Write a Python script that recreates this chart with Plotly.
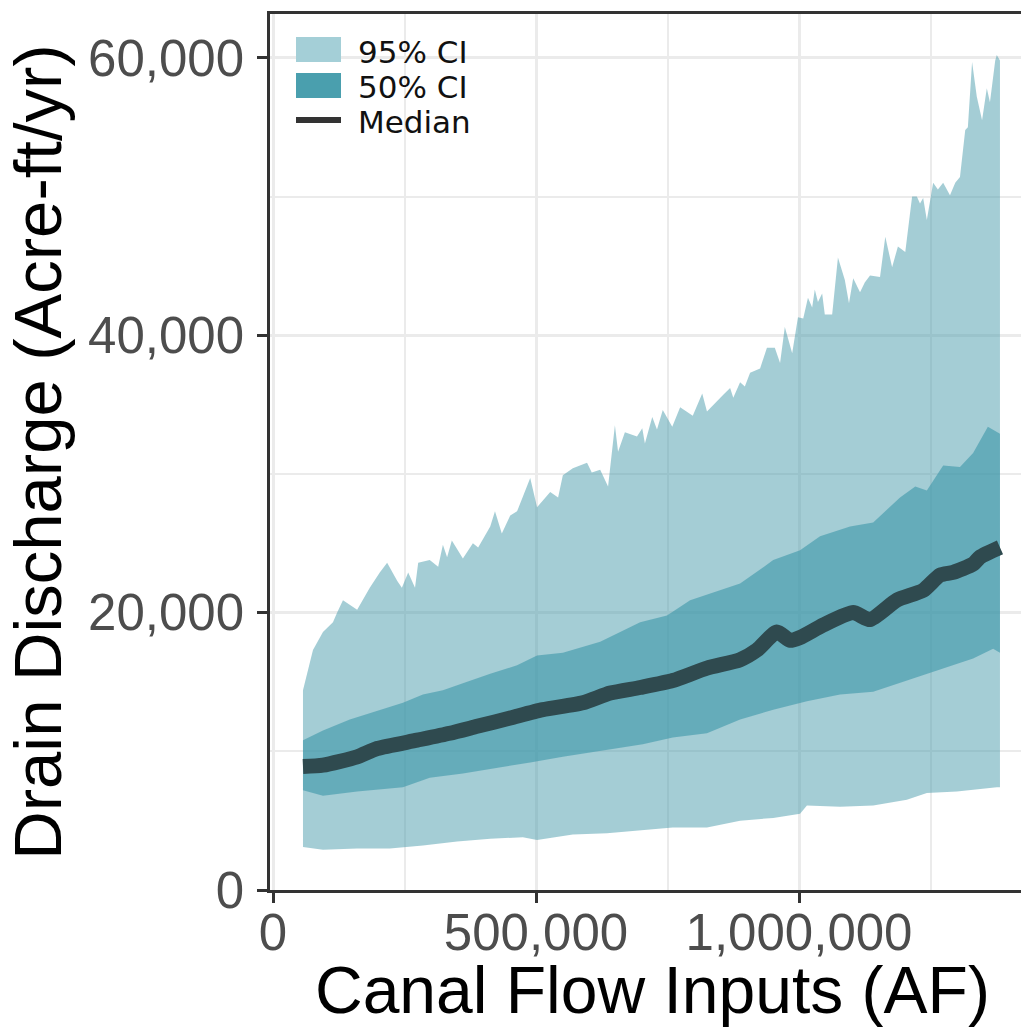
import plotly.graph_objects as go

# ---------------- data ----------------
upper95_x = [57000, 76000, 95000, 114000, 122000, 133000, 160000, 184000, 203000, 217000,
             236000, 245000, 257000, 270000, 276000, 298000, 314000, 323000, 331000, 340000,
             361000, 380000, 390000, 413000, 422000, 435000, 451000, 464000, 489000, 502000,
             527000, 542000, 551000, 570000, 597000, 606000, 622000, 637000, 650000, 656000,
             669000, 692000, 702000, 707000, 721000, 730000, 741000, 759000, 774000, 798000,
             816000, 825000, 856000, 869000, 875000, 888000, 897000, 907000, 926000, 939000,
             954000, 964000, 973000, 987000, 998000, 1008000, 1017000, 1025000, 1030000, 1036000,
             1044000, 1049000, 1063000, 1074000, 1087000, 1095000, 1103000, 1116000, 1125000, 1135000,
             1154000, 1164000, 1177000, 1188000, 1202000, 1215000, 1224000, 1230000, 1236000, 1243000,
             1255000, 1264000, 1274000, 1287000, 1297000, 1306000, 1316000, 1321000, 1329000, 1338000,
             1348000, 1357000, 1363000, 1373000, 1376000, 1382000]
upper95_y = [14400, 17300, 18600, 19300, 20000, 20900, 20200, 21800, 22900, 23600,
             22300, 21800, 22900, 21800, 23600, 23800, 23300, 24900, 24000, 25200,
             23900, 25000, 24700, 26200, 27300, 25700, 27000, 27300, 29700, 27600,
             28700, 28300, 29900, 30400, 30800, 30100, 30300, 29100, 33500, 31600,
             33000, 32700, 33300, 32200, 34100, 33200, 34600, 33400, 34800, 34200,
             35800, 34500, 35700, 36200, 35500, 36600, 36300, 37300, 37600, 39100,
             39100, 38000, 40600, 38700, 41300, 41200, 42700, 42000, 43300, 42400,
             43000, 41500, 41500, 45600, 44000, 42300, 44100, 43100, 43800, 44300,
             44200, 47100, 44900, 46400, 46000, 50000, 50000, 49500, 49900, 48300,
             51000, 50500, 51000, 50100, 51000, 51400, 54800, 55000, 59700, 57200,
             55500, 57800, 56800, 59800, 60200, 59800]

upper50_x = [57000, 95000, 146000, 190000, 247000, 285000, 323000, 361000, 413000, 464000,
             502000, 551000, 589000, 622000, 698000, 749000, 793000, 850000, 888000, 926000,
             951000, 1002000, 1040000, 1097000, 1141000, 1192000, 1221000, 1243000, 1274000, 1306000,
             1331000, 1359000, 1382000]
upper50_y = [10800, 11500, 12300, 12800, 13500, 14100, 14400, 14900, 15600, 16200,
             16900, 17100, 17500, 17900, 19300, 19800, 20900, 21600, 22100, 23100,
             23800, 24500, 25500, 26200, 26500, 28300, 29100, 28800, 30600, 30500,
             31500, 33400, 32900]

median_x = [57000, 95000, 160000, 198000, 274000, 336000, 388000, 451000, 513000, 589000,
            641000, 698000, 760000, 825000, 888000, 920000, 958000, 983000, 1002000, 1046000,
            1103000, 1135000, 1186000, 1236000, 1268000, 1293000, 1331000, 1344000, 1382000]
median_y = [8900, 9000, 9600, 10200, 10800, 11300, 11800, 12400, 13000, 13500,
            14200, 14600, 15100, 16000, 16600, 17300, 18600, 18000, 18200, 19100,
            20000, 19500, 20900, 21600, 22700, 22900, 23500, 24000, 24700]

lower50_x = [57000, 95000, 160000, 247000, 298000, 361000, 426000, 489000, 551000, 616000,
             703000, 760000, 825000, 888000, 951000, 1015000, 1078000, 1141000, 1205000, 1268000,
             1331000, 1369000, 1382000]
lower50_y = [7200, 6800, 7100, 7400, 8100, 8400, 8800, 9200, 9600, 10000,
             10500, 11000, 11300, 12300, 13000, 13600, 14100, 14300, 15100, 15900,
             16700, 17400, 17100]

lower95_x = [57000, 95000, 160000, 222000, 285000, 350000, 413000, 475000, 502000, 570000,
             635000, 698000, 760000, 825000, 888000, 951000, 1002000, 1015000, 1078000, 1141000,
             1205000, 1243000, 1300000, 1376000, 1382000]
lower95_y = [3100, 2900, 3000, 3000, 3200, 3500, 3700, 3800, 3600, 4000,
             4100, 4300, 4500, 4500, 5000, 5200, 5500, 6100, 6000, 6100,
             6500, 7000, 7100, 7400, 7400]

x_ticks = [0, 500000, 1000000]
y_ticks = [0, 20000, 40000, 60000]
legend_labels = ["95% CI", "50% CI", "Median"]
x_title = "Canal Flow Inputs (AF)"
y_title = "Drain Discharge (Acre-ft/yr)"

# ---------------- styling ----------------
C95 = "rgba(80,160,175,0.52)"
C50 = "rgba(60,150,168,0.60)"
CMED = "#2f4a4f"
KEY95 = "#a4cfd7"
KEY50 = "#4a9fae"

W, H = 1021, 1029
ML, MR, MT, MB = 270, 0, 14, 139
PW, PH = W - ML - MR, H - MT - MB


def px_x(p):
    return (p - ML) / PW


def px_y(p):
    return (H - MB - p) / PH


fig = go.Figure()
fig.add_trace(go.Scatter(x=upper95_x + lower95_x[::-1], y=upper95_y + lower95_y[::-1],
                         fill="toself", fillcolor=C95, line=dict(width=0), mode="lines",
                         name=legend_labels[0], showlegend=False, hoverinfo="skip"))
fig.add_trace(go.Scatter(x=upper50_x + lower50_x[::-1], y=upper50_y + lower50_y[::-1],
                         fill="toself", fillcolor=C50, line=dict(width=0), mode="lines",
                         name=legend_labels[1], showlegend=False, hoverinfo="skip"))
fig.add_trace(go.Scatter(x=median_x, y=median_y, mode="lines",
                         line=dict(color=CMED, width=15, shape="spline", smoothing=0.6),
                         name=legend_labels[2], showlegend=False))

# manual legend (ggplot-style keys)
shapes = [
    dict(type="rect", xref="paper", yref="paper", x0=px_x(296), x1=px_x(341),
         y0=px_y(62), y1=px_y(37), fillcolor=KEY95, line=dict(width=0)),
    dict(type="rect", xref="paper", yref="paper", x0=px_x(296), x1=px_x(341),
         y0=px_y(98), y1=px_y(73), fillcolor=KEY50, line=dict(width=0)),
    dict(type="line", xref="paper", yref="paper", x0=px_x(296), x1=px_x(341),
         y0=px_y(120), y1=px_y(120), line=dict(color="#333333", width=6)),
]
annotations = []
for lab, yc in zip(legend_labels, [52, 87, 122]):
    annotations.append(dict(text=lab, xref="paper", yref="paper", x=px_x(356), y=px_y(yc),
                            xanchor="left", yanchor="middle", showarrow=False,
                            font=dict(family="DejaVu Sans", size=31, color="#111111")))
# x-axis title (placed as in the reference, centred on the full ggplot panel)
annotations.append(dict(text=x_title, xref="paper", yref="paper", x=px_x(652), y=px_y(1029),
                        xanchor="center", yanchor="bottom", showarrow=False,
                        font=dict(family="Liberation Sans, Arial", size=66, color="black")))

axis_common = dict(
    showline=True, linecolor="#333333", linewidth=2.5,
    ticks="outside", ticklen=10, tickwidth=2.5, tickcolor="#333333",
    tickfont=dict(family="Liberation Sans, Arial", size=51, color="#4d4d4d"),
    showgrid=True, gridcolor="#ebebeb", gridwidth=3,
    zeroline=False, tickformat=",", automargin=False,
)

fig.update_layout(
    width=W, height=H,
    margin=dict(l=ML, r=MR, t=MT, b=MB, pad=0),
    plot_bgcolor="white", paper_bgcolor="white",
    shapes=shapes, annotations=annotations,
    showlegend=False,
    xaxis=dict(**axis_common, range=[-5700, 1422000], tickvals=x_ticks, mirror=True,
               minor=dict(dtick=250000, tick0=0, showgrid=True, gridcolor="#ebebeb", gridwidth=2, ticks=""),
               ticklabelstandoff=-14),
    yaxis=dict(**axis_common, range=[0, 63160], tickvals=y_ticks,
               minor=dict(dtick=10000, tick0=0, showgrid=True, gridcolor="#ebebeb", gridwidth=2, ticks=""),
               ticklabelstandoff=3,
               title=dict(text=y_title, standoff=12,
                          font=dict(family="Liberation Sans, Arial", size=67, color="black"))),
)

fig.write_html("out.html")
